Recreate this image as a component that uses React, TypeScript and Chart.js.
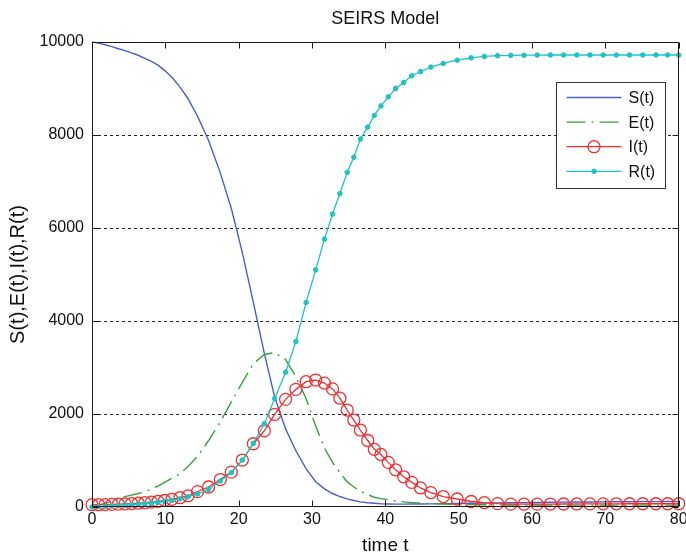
import React, { useEffect, useRef } from 'react';
import { Chart, registerables } from 'chart.js';

Chart.register(...registerables);

const timeT = [
  0, 0.9, 1.8, 2.7, 3.6, 4.5, 5.4, 6.3, 7.2, 8.1, 9.0, 9.9, 10.9, 12.0, 13.1, 14.4, 15.9, 17.5, 19.0, 20.5,
  22.0, 23.5, 24.9, 26.4, 27.8, 29.2, 30.5, 31.7, 32.8, 33.8, 34.8, 35.7, 36.6, 37.6, 38.5, 39.4, 40.4, 41.4,
  42.5, 43.6, 44.8, 46.2, 47.9, 49.8, 51.7, 53.5, 55.3, 57.1, 58.9, 60.7, 62.5, 64.3, 66.1, 67.9, 69.7, 71.5,
  73.3, 75.1, 76.9, 78.5, 80,
];

const sValues = [
  10000, 9975, 9940, 9900, 9855, 9815, 9765, 9715, 9650, 9585, 9503, 9390, 9240, 9030, 8780, 8400, 7880, 7180,
  6420, 5470, 4400, 3305, 2370, 1680, 1210, 820, 544, 390, 290, 225, 175, 140, 110, 90, 80, 70, 65, 62, 62, 63,
  65, 68, 72, 76, 80, 84, 88, 92, 95, 98, 101, 104, 106, 108, 110, 112, 114, 115, 116, 117, 118,
];

const eValues = [
  0, 40, 80, 125, 170, 222, 255, 290, 325, 385, 450, 530, 620, 715, 870, 1090, 1430, 1830, 2260, 2680, 3080,
  3280, 3320, 3170, 2800, 2330, 1740, 1265, 960, 740, 540, 430, 340, 265, 210, 180, 155, 130, 110, 95, 82, 72,
  65, 58, 52, 48, 45, 43, 42, 42, 41, 41, 40, 40, 40, 40, 40, 40, 40, 40, 40,
];

const iValues = [
  50, 50, 52, 56, 61, 67, 74, 82, 92, 105, 120, 140, 165, 200, 240, 330, 430, 590, 750, 1010, 1360, 1640, 1990,
  2315, 2530, 2695, 2730, 2665, 2540, 2340, 2085, 1870, 1655, 1430, 1240, 1130, 960, 800, 650, 530, 410, 310,
  225, 172, 118, 92, 72, 62, 60, 62, 63, 65, 66, 67, 68, 69, 70, 70, 70, 70, 70,
];

const rValues = [
  0, 5, 12, 20, 28, 37, 47, 58, 70, 84, 100, 118, 142, 175, 220, 280, 380, 560, 740, 1010, 1370, 1790, 2330,
  2900, 3560, 4400, 5100, 5760, 6300, 6740, 7196, 7520, 7912, 8170, 8420, 8625, 8821, 9001, 9130, 9273, 9365,
  9460, 9539, 9608, 9660, 9690, 9705, 9712, 9716, 9718, 9720, 9720, 9720, 9720, 9720, 9720, 9720, 9720, 9720,
  9720, 9720,
];

const seriesLabels = ['S(t)', 'E(t)', 'I(t)', 'R(t)'];
const xTickValues = [0, 10, 20, 30, 40, 50, 60, 70, 80];
const yTickValues = [0, 2000, 4000, 6000, 8000, 10000];

const FONT = '"Liberation Sans", Arial, Helvetica, sans-serif';

export default function App() {
  const ref = useRef<HTMLCanvasElement | null>(null);

  useEffect(() => {
    document.body.style.margin = '0';
    document.body.style.overflow = 'hidden';
    const canvas = ref.current;
    if (!canvas) return;

    const toPts = (ys: number[]) => timeT.map((t, i) => ({ x: t, y: ys[i] }));

    const boxPlugin = {
      id: 'matlabBox',
      afterDatasetsDraw(chart: any) {
        const { ctx, chartArea: a, scales } = chart;
        const L = Math.round(a.left) + 0.5;
        const R = Math.round(a.right) - 0.5;
        const T = Math.round(a.top) + 0.5;
        const B = Math.round(a.bottom) - 0.5;
        ctx.save();
        ctx.strokeStyle = '#1a1a1a';
        ctx.lineWidth = 1;
        ctx.setLineDash([]);
        ctx.beginPath();
        ctx.rect(L, T, R - L, B - T);
        const tl = 6;
        xTickValues.forEach((v) => {
          const px = Math.round(scales.x.getPixelForValue(v)) + 0.5;
          ctx.moveTo(px, B);
          ctx.lineTo(px, B - tl);
          ctx.moveTo(px, T);
          ctx.lineTo(px, T + tl);
        });
        yTickValues.forEach((v) => {
          const py = Math.round(scales.y.getPixelForValue(v)) + 0.5;
          ctx.moveTo(L, py);
          ctx.lineTo(L + tl, py);
          ctx.moveTo(R, py);
          ctx.lineTo(R - tl, py);
        });
        ctx.stroke();

        // legend box
        const bw = 109;
        const bh = 106;
        const bx = Math.round(a.right) - 14 - bw + 0.5;
        const by = Math.round(a.top) + 40 + 0.5;
        ctx.fillStyle = '#ffffff';
        ctx.fillRect(bx, by, bw, bh);
        ctx.strokeStyle = '#333333';
        ctx.strokeRect(bx, by, bw, bh);
        chart.data.datasets.forEach((ds: any, i: number) => {
          const cy = by + 15 + i * 24.6;
          const x1 = bx + 10;
          const x2 = bx + 65;
          ctx.strokeStyle = ds.borderColor;
          ctx.lineWidth = ds.borderWidth;
          ctx.setLineDash(ds.borderDash || []);
          ctx.beginPath();
          ctx.moveTo(x1, cy);
          ctx.lineTo(x2, cy);
          ctx.stroke();
          ctx.setLineDash([]);
          if (ds.pointRadius > 0) {
            ctx.beginPath();
            ctx.arc((x1 + x2) / 2, cy, ds.pointRadius, 0, Math.PI * 2);
            ctx.lineWidth = ds.pointBorderWidth;
            ctx.strokeStyle = ds.pointBorderColor;
            ctx.fillStyle = ds.pointBackgroundColor;
            ctx.fill();
            ctx.stroke();
          }
          ctx.fillStyle = '#111111';
          ctx.font = `16px ${FONT}`;
          ctx.textBaseline = 'middle';
          ctx.textAlign = 'left';
          ctx.fillText(ds.label, bx + 72, cy + 1);
        });
        ctx.restore();
      },
    };

    const chart = new Chart(canvas, {
      type: 'line',
      data: {
        datasets: [
          {
            label: seriesLabels[0],
            data: toPts(sValues),
            borderColor: '#4d5dcc',
            borderWidth: 1.4,
            pointRadius: 0,
            pointBorderWidth: 0,
            pointBorderColor: '#4d5dcc',
            pointBackgroundColor: '#4d5dcc',
            order: 4,
            clip: false as any,
          },
          {
            label: seriesLabels[1],
            data: toPts(eValues),
            borderColor: '#36a03c',
            borderWidth: 1.4,
            borderDash: [19, 6, 2, 6],
            pointRadius: 0,
            pointBorderWidth: 0,
            pointBorderColor: '#36a03c',
            pointBackgroundColor: '#36a03c',
            order: 3,
            clip: false as any,
          },
          {
            label: seriesLabels[2],
            data: toPts(iValues),
            borderColor: '#f03030',
            borderWidth: 1.3,
            pointRadius: 6,
            pointBorderWidth: 1.3,
            pointBorderColor: '#f03030',
            pointBackgroundColor: 'rgba(255,255,255,0)',
            order: 2,
            clip: false as any,
          },
          {
            label: seriesLabels[3],
            data: toPts(rValues),
            borderColor: '#20c2c2',
            borderWidth: 1.3,
            pointRadius: 2.3,
            pointBorderWidth: 1,
            pointBorderColor: '#20c2c2',
            pointBackgroundColor: '#20c2c2',
            order: 1,
            clip: false as any,
          },
        ],
      },
      options: {
        animation: false,
        responsive: false,
        maintainAspectRatio: false,
        layout: { padding: { left: 0, right: 4, top: 0, bottom: 0 } },
        plugins: {
          legend: { display: false },
          tooltip: { enabled: false },
          title: {
            display: true,
            fullSize: false,
            text: 'SEIRS Model',
            color: '#111111',
            font: { family: FONT, size: 18, weight: 'normal', lineHeight: 1.2 },
            padding: { top: 8, bottom: 12.4 },
          },
        },
        scales: {
          x: {
            type: 'linear',
            min: 0,
            max: 80,
            afterFit: (s: any) => {
              s.height = 49;
              s.paddingLeft = 0;
              s.paddingRight = 0;
            },
            afterBuildTicks: (s: any) => {
              s.ticks = xTickValues.map((v) => ({ value: v }));
            },
            grid: { display: false, drawTicks: false },
            border: { display: false },
            ticks: {
              color: '#111111',
              font: { family: FONT, size: 16 },
              padding: 3,
              maxRotation: 0,
              autoSkip: false,
              callback: (v: any) => String(v),
            },
            title: {
              display: true,
              text: 'time t',
              color: '#111111',
              font: { family: FONT, size: 19, lineHeight: 1 },
              padding: { top: 0, bottom: 0.5 },
            },
          },
          y: {
            type: 'linear',
            min: 0,
            max: 10000,
            afterFit: (s: any) => {
              s.width = 92;
            },
            afterBuildTicks: (s: any) => {
              s.ticks = yTickValues.map((v) => ({ value: v }));
            },
            grid: {
              drawTicks: false,
              color: (c: any) =>
                c.tick && (c.tick.value === 0 || c.tick.value === 10000) ? 'rgba(0,0,0,0)' : '#222222',
              lineWidth: 1,
            },
            border: { display: false, dash: [3, 3] },
            ticks: {
              color: '#111111',
              font: { family: FONT, size: 16 },
              padding: 8,
              autoSkip: false,
              callback: (v: any) => String(v),
            },
            title: {
              display: true,
              text: 'S(t),E(t),I(t),R(t)',
              color: '#111111',
              font: { family: FONT, size: 20 },
              padding: { top: 6, bottom: 6 },
            },
          },
        },
      },
      plugins: [boxPlugin],
    } as any);

    return () => {
      chart.destroy();
    };
  }, []);

  return <canvas ref={ref} width={686} height={556} style={{ display: 'block' }} />;
}
